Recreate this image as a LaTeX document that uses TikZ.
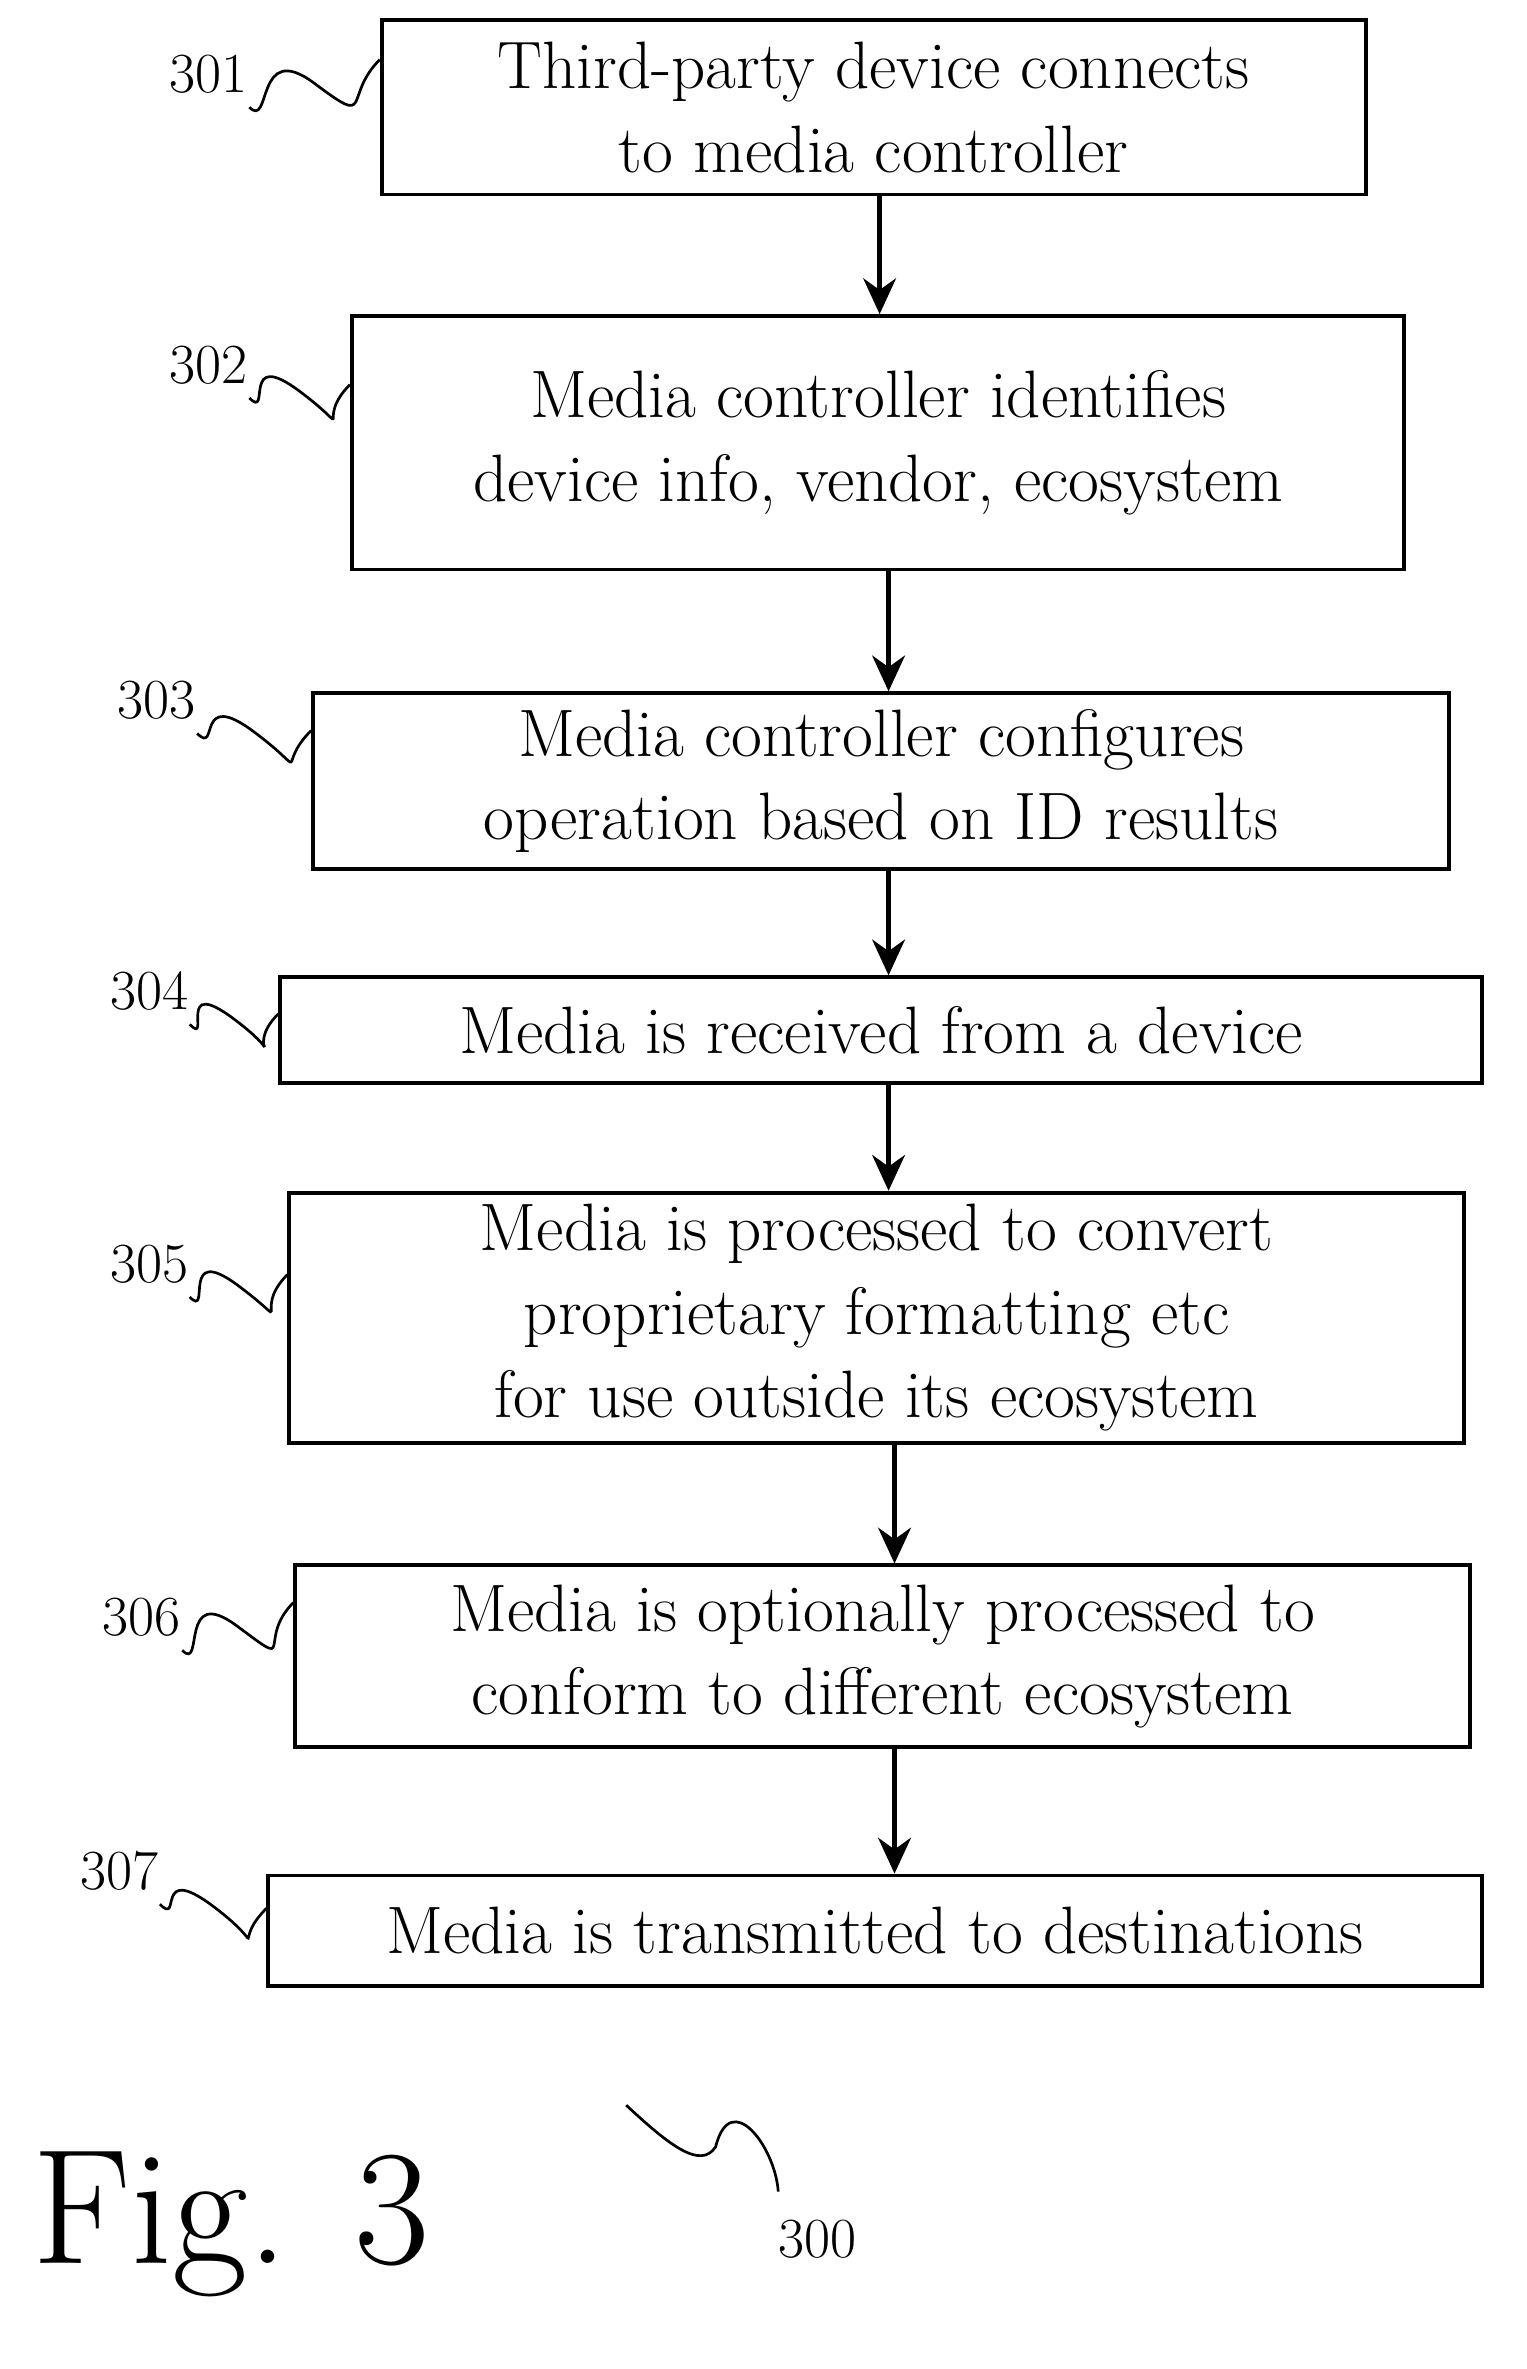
\documentclass[tikz,border=0pt]{standalone}
\usetikzlibrary{arrows.meta,calc}
\begin{document}
\begin{tikzpicture}[x=0.5pt,y=-0.5pt,
  box/.style={draw,line width=1.3pt,inner sep=0pt,align=center,font=\fontsize{22.5}{28}\selectfont},
  lab/.style={font=\fontsize{19}{22}\selectfont},
  arr/.style={line width=1.5pt,-{Stealth[length=12pt,width=11pt]}},
  sq/.style={line width=0.9pt}]
\useasboundingbox (0,0) rectangle (1024,1589);
\node[box,minimum width=330pt,minimum height=58.5pt] (b1) at (586,72) {Third-party device connects\\to media controller};
\node[box,minimum width=353pt,minimum height=85pt] (b2) at (589,297) {Media controller identifies\\device info, vendor, ecosystem};
\node[box,minimum width=381pt,minimum height=59pt] (b3) at (591,524) {Media controller configures\\operation based on ID results};
\node[box,minimum width=403pt,minimum height=35.5pt] (b4) at (591,691) {Media is received from a device};
\node[box,minimum width=394pt,minimum height=84pt] (b5) at (588,884) {Media is processed to convert\\proprietary formatting etc\\for use outside its ecosystem};
\node[box,minimum width=394pt,minimum height=61pt] (b6) at (592,1111) {Media is optionally processed to\\conform to different ecosystem};
\node[box,minimum width=407pt,minimum height=37pt] (b7) at (587,1295) {Media is transmitted to destinations};
\draw[arr] (b1.south -| 590,0) -- (b2.north -| 590,0);
\draw[arr] (b2.south -| 596,0) -- (b3.north -| 596,0);
\draw[arr] (b3.south -| 596,0) -- (b4.north -| 596,0);
\draw[arr] (b4.south -| 596,0) -- (b5.north -| 596,0);
\draw[arr] (b5.south -| 600,0) -- (b6.north -| 600,0);
\draw[arr] (b6.south -| 600,0) -- (b7.north -| 600,0);
\node[lab] (l1) at (140,50) {301};
\node[lab] (l2) at (140,245) {302};
\node[lab] (l3) at (105,470) {303};
\node[lab] (l4) at (100,665) {304};
\node[lab] (l5) at (100,848) {305};
\node[lab] (l6) at (95,1085) {306};
\node[lab] (l7) at (80,1255) {307};
\foreach \i/\y in {1/40,2/258,3/490,4/680,5/855,6/1075,7/1280}{
  \coordinate (e\i) at (b\i.west |- 0,\y);
  \draw[sq] (l\i.south east) ++(-6,2) coordinate (s\i) .. controls +(15,15) and +(-40,-30) .. ($ (s\i)!0.5!(e\i) $) .. controls +(40,30) and +(-25,25) .. (e\i);
}
\node[font=\fontsize{55}{60}\selectfont,anchor=west] (fig) at (15,1492) {Fig. 3};
\node[lab] (l300) at (548,1502) {300};
\coordinate (t0) at (420,1412);
\coordinate (t1) at (522,1470);
\draw[sq] (t0) .. controls (450,1440) and (470,1455) .. (480,1440) .. controls (490,1400) and (520,1440) .. (t1);
\end{tikzpicture}
\end{document}
